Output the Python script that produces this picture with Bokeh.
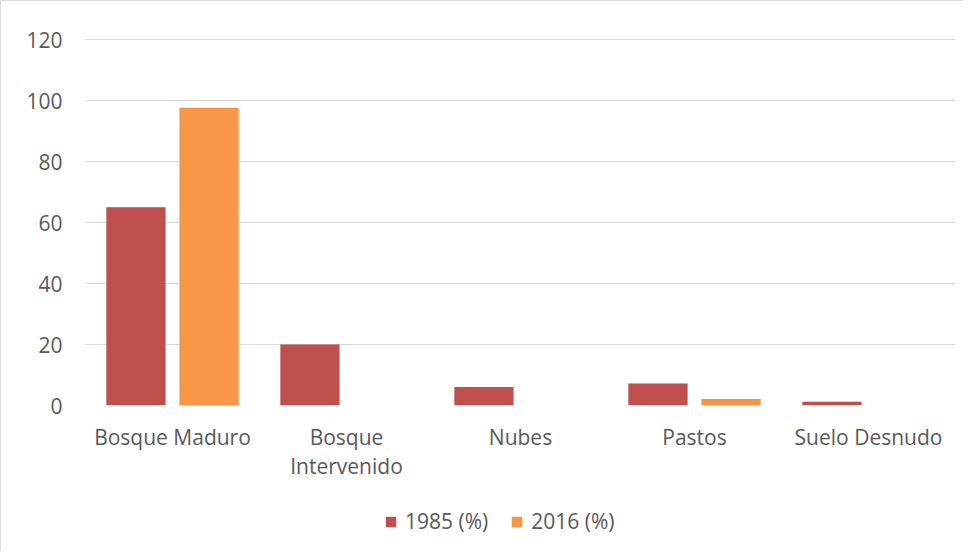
from bokeh.plotting import figure
from bokeh.layouts import column
from bokeh.models import ColumnDataSource, Legend, LegendItem, FixedTicker, LinearAxis
from bokeh.embed import file_html
from bokeh.resources import INLINE

categories = ["Bosque Maduro", "Bosque Intervenido", "Nubes", "Pastos", "Suelo Desnudo"]
label_line1 = ["Bosque Maduro", "Bosque", "Nubes", "Pastos", "Suelo Desnudo"]
label_line2 = ["", "Intervenido", "", "", ""]
v1985 = [65.0, 20.0, 6.1, 7.2, 1.2]
v2016 = [97.7, 0.0, 0.0, 2.1, 0.0]
series_names = ["1985 (%)", "2016 (%)"]
y_ticks = [0, 20, 40, 60, 80, 100, 120]

RED = "#C0504D"
ORANGE = "#F79646"
TXT = "#595959"
FONT = "Open Sans"
FS = "21px"
OFF = 0.21
BW = 0.34

idx = list(range(len(categories)))
src = ColumnDataSource(dict(i=idx, xa=[i - OFF for i in idx], xb=[i + OFF for i in idx],
                            a=v1985, b=v2016))

p = figure(x_range=(-0.5, len(categories) - 0.5), y_range=(0, 120.4),
           width=962, height=481, output_backend="svg", toolbar_location=None,
           min_border_left=84, min_border_right=8, min_border_top=37, min_border_bottom=0)
p.outline_line_color = None
p.background_fill_color = "white"
p.border_fill_color = "white"

# subtle shadows
for xcol, col in (("xa", "a"), ("xb", "b")):
    p.vbar(x=xcol, top=col, width=BW, source=src, fill_color="#000000", fill_alpha=0.10,
           line_color=None)

r1 = p.vbar(x="xa", top="a", width=BW, source=src, fill_color=RED, line_color=None)
r2 = p.vbar(x="xb", top="b", width=BW, source=src, fill_color=ORANGE, line_color=None)

p.xgrid.grid_line_color = None
p.ygrid.grid_line_color = "#d9d9d9"
p.ygrid.grid_line_width = 1.2
p.yaxis.ticker = FixedTicker(ticks=y_ticks)

ax2 = LinearAxis()
p.add_layout(ax2, "below")

ax1 = p.xaxis[0]
for ax in (ax1, ax2):
    ax.ticker = FixedTicker(ticks=idx)

for ax in (ax1, p.yaxis[0], ax2):
    ax.axis_line_color = None
    ax.major_tick_line_color = None
    ax.minor_tick_line_color = None
    ax.major_label_text_font = FONT
    ax.major_label_text_font_size = FS
    ax.major_label_text_color = TXT
p.yaxis.major_label_standoff = 17
ax1.major_label_standoff = 11
ax1.major_label_overrides = {i: s for i, s in zip(idx, label_line1)}
ax2.major_label_standoff = -8
ax2.major_label_overrides = {i: s for i, s in zip(idx, label_line2)}

# legend strip (its view range lies away from the data, so only the legend shows)
lf = figure(width=962, height=69, output_backend="svg", toolbar_location=None,
            x_range=(100, 101), y_range=(1000, 1001),
            min_border=0, min_border_left=0, min_border_right=0, min_border_top=0, min_border_bottom=0)
lf.axis.visible = False
lf.grid.visible = False
lf.outline_line_color = None
l1 = lf.vbar(x="xa", top="a", width=BW, source=src, fill_color=RED, line_color=None)
l2 = lf.vbar(x="xb", top="b", width=BW, source=src, fill_color=ORANGE, line_color=None)

legend = Legend(items=[LegendItem(label=series_names[0], renderers=[l1]),
                       LegendItem(label=series_names[1], renderers=[l2])],
                orientation="horizontal", location=(299, 16),
                label_text_font=FONT, label_text_font_size=FS, label_text_color=TXT,
                glyph_width=13, glyph_height=13, spacing=22, label_standoff=8,
                border_line_color=None, background_fill_alpha=0, margin=0, padding=0)
lf.add_layout(legend, "center")

layout = column(p, lf, spacing=0)
layout.styles = {"border-left": "1px solid #d9d9d9", "border-top": "1px solid #d9d9d9"}

open("out.html", "w").write(file_html(layout, INLINE))
